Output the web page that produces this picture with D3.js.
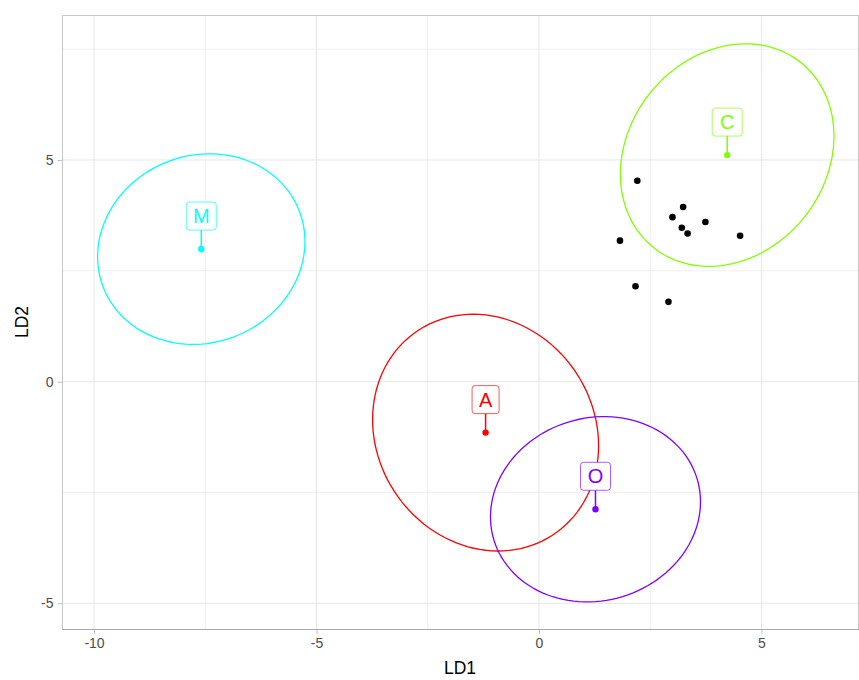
<!DOCTYPE html>
<html lang="en">
<head>
    <meta charset="UTF-8">
    <title>LDA plot</title>
    <style>
        * { margin: 0; padding: 0 }
        body { background: #fff; }
        text { font-family: "Liberation Sans", Arial, sans-serif; }
    </style>
</head>
<body>
    <svg id="chart" width="859" height="680"></svg>
    <script src="https://d3js.org/d3.v7.min.js"></script>
    <script>
        // groups and their centroids (LD1, LD2)
        const groups = ['A', 'C', 'M', 'O'];
        const groupColors = ['#FF0000', '#80FF00', '#00FFFF', '#8000FF'];
        const centroidLD1 = [-1.20, 4.23, -7.59, 1.27];
        const centroidLD2 = [-1.15, 5.11, 2.99, -2.88];
        // ellipse spread: variance in LD1, variance in LD2, covariance
        const ellVarX = [6.45, 5.76, 5.43, 5.57];
        const ellVarY = [7.13, 6.30, 4.62, 4.37];
        const ellCov = [-0.75, 1.03, 0.40, 0.40];

        // unknown samples (black points)
        const newLD1 = [2.21, 3.24, 3.00, 3.21, 3.34, 3.74, 4.52, 1.82, 2.17, 2.91];
        const newLD2 = [4.53, 3.94, 3.71, 3.47, 3.34, 3.60, 3.29, 3.18, 2.15, 1.80];

        const xTicks = [-10, -5, 0, 5];
        const yTicks = [-5, 0, 5];
        const xMinor = [-7.5, -2.5, 2.5];
        const yMinor = [-2.5, 2.5, 7.5];

        const svg = d3.select('#chart');
        const pLeft = 62, pRight = 858, pTop = 15, pBottom = 629;

        let x = d3.scaleLinear().domain([-10.72, 7.17]).range([pLeft, pRight]);
        let y = d3.scaleLinear().domain([-5.58, 8.27]).range([pBottom, pTop]);

        // grid
        let grid = svg.append('g');
        grid.selectAll('line.vmin').data(xMinor).enter().append('line')
            .attr('x1', d => x(d)).attr('x2', d => x(d)).attr('y1', pTop).attr('y2', pBottom)
            .style('stroke', '#efefef').style('stroke-width', 1);
        grid.selectAll('line.hmin').data(yMinor).enter().append('line')
            .attr('y1', d => y(d)).attr('y2', d => y(d)).attr('x1', pLeft).attr('x2', pRight)
            .style('stroke', '#efefef').style('stroke-width', 1);
        grid.selectAll('line.vmaj').data(xTicks).enter().append('line')
            .attr('x1', d => x(d)).attr('x2', d => x(d)).attr('y1', pTop).attr('y2', pBottom)
            .style('stroke', '#e6e6e6').style('stroke-width', 1);
        grid.selectAll('line.hmaj').data(yTicks).enter().append('line')
            .attr('y1', d => y(d)).attr('y2', d => y(d)).attr('x1', pLeft).attr('x2', pRight)
            .style('stroke', '#e6e6e6').style('stroke-width', 1);

        // panel border
        svg.append('rect')
            .attr('x', pLeft + 0.5).attr('y', pTop + 0.5)
            .attr('width', pRight - pLeft).attr('height', pBottom - pTop)
            .style('fill', 'none').style('stroke', '#c8c8c8').style('stroke-width', 1);
        svg.append('line')
            .attr('x1', pLeft).attr('x2', pRight + 1).attr('y1', pBottom + 0.5).attr('y2', pBottom + 0.5)
            .style('stroke', '#a8a8a8').style('stroke-width', 1);

        // axes (plain hyphen for negatives, like the original)
        let fmt = d => String(d);
        let xAxis = svg.append('g').attr('transform', 'translate(0,' + (pBottom + 1) + ')')
            .call(d3.axisBottom(x).tickValues(xTicks).tickFormat(fmt).tickSize(4).tickPadding(4));
        let yAxis = svg.append('g').attr('transform', 'translate(' + (pLeft + 0.5) + ',0)')
            .call(d3.axisLeft(y).tickValues(yTicks).tickFormat(fmt).tickSize(5).tickPadding(4));
        [xAxis, yAxis].forEach(a => {
            a.select('.domain').remove();
            a.selectAll('line').style('stroke', '#c0c0c0');
            a.selectAll('text').style('fill', '#4d4d4d').style('font-size', '14px')
                .style('font-family', '"Liberation Sans", Arial, sans-serif');
        });

        svg.append('text').attr('x', (pLeft + pRight) / 2).attr('y', 674)
            .attr('text-anchor', 'middle').style('font-size', '17.5px').style('fill', '#000')
            .text('LD1');
        svg.append('text')
            .attr('transform', 'translate(28,' + ((pTop + pBottom) / 2) + ') rotate(-90)')
            .attr('text-anchor', 'middle').style('font-size', '17.5px').style('fill', '#000')
            .text('LD2');

        // ellipses from centre + covariance (cholesky factor)
        let line = d3.line().x(d => x(d[0])).y(d => y(d[1]));
        let ellipses = groups.map((g, i) => {
            let a11 = Math.sqrt(ellVarX[i]);
            let a21 = ellCov[i] / a11;
            let a22 = Math.sqrt(ellVarY[i] - a21 * a21);
            return d3.range(0, 361, 3).map(deg => {
                let t = deg * Math.PI / 180;
                return [centroidLD1[i] + a11 * Math.cos(t),
                        centroidLD2[i] + a21 * Math.cos(t) + a22 * Math.sin(t)];
            });
        });
        svg.selectAll('path.ell').data(ellipses).enter().append('path')
            .attr('d', d => line(d))
            .style('fill', 'none')
            .style('stroke', (d, i) => groupColors[i])
            .style('stroke-width', 1.3);

        // unknown points
        svg.selectAll('circle.new').data(newLD1).enter().append('circle')
            .attr('cx', d => x(d)).attr('cy', (d, i) => y(newLD2[i]))
            .attr('r', 3.3).style('fill', '#000');

        // centroid points with labels
        let cg = svg.selectAll('g.cent').data(groups).enter().append('g')
            .attr('transform', (d, i) => 'translate(' + x(centroidLD1[i]) + ',' + y(centroidLD2[i]) + ')');
        cg.append('line')
            .attr('x1', 0).attr('x2', 0).attr('y1', 0).attr('y2', -19)
            .style('stroke', (d, i) => groupColors[i]).style('stroke-width', 1.5);
        cg.append('circle').attr('r', 3.2).style('fill', (d, i) => groupColors[i]);
        cg.append('rect')
            .attr('x', d => d === 'A' ? -13.5 : -15)
            .attr('width', d => d === 'A' ? 27 : 30)
            .attr('y', -47).attr('height', 28).attr('rx', 3)
            .style('fill', '#fff')
            .style('stroke', (d, i) => groupColors[i]).style('stroke-opacity', 0.65)
            .style('stroke-width', 1);
        cg.append('text')
            .attr('y', -26).attr('text-anchor', 'middle')
            .style('font-size', '20px')
            .style('fill', (d, i) => groupColors[i])
            .text(d => d);
    </script>
</body>
</html>
